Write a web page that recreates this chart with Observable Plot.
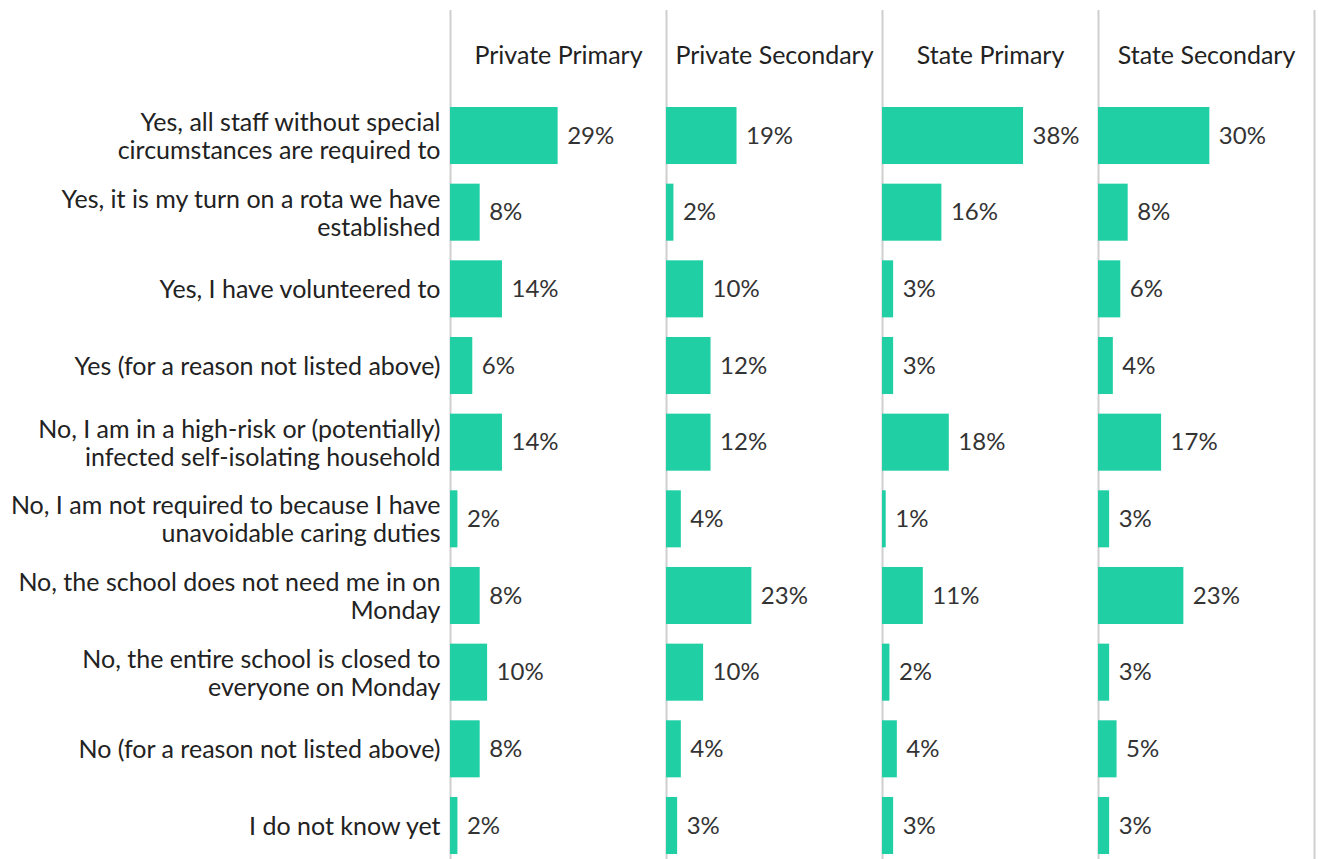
<!DOCTYPE html>
<html>
<head>
<meta charset="utf-8">
<script src="https://cdn.jsdelivr.net/npm/d3@7"></script>
<script src="https://cdn.jsdelivr.net/npm/@observablehq/plot@0.6"></script>
<style>
  html, body { margin: 0; padding: 0; background: #fff; }
  #chart { width: 1318px; height: 859px; }
</style>
</head>
<body>
<div id="chart"></div>
<script>
const columns = ["Private Primary", "Private Secondary", "State Primary", "State Secondary"];

const categories = [
  "Yes, all staff without special\ncircumstances are required to",
  "Yes, it is my turn on a rota we have\nestablished",
  "Yes, I have volunteered to",
  "Yes (for a reason not listed above)",
  "No, I am in a high-risk or (potentially)\ninfected self-isolating household",
  "No, I am not required to because I have\nunavoidable caring duties",
  "No, the school does not need me in on\nMonday",
  "No, the entire school is closed to\neveryone on Monday",
  "No (for a reason not listed above)",
  "I do not know yet"
];

const privatePrimary   = [29, 8, 14, 6, 14, 2, 8, 10, 8, 2];
const privateSecondary = [19, 2, 10, 12, 12, 4, 23, 10, 4, 3];
const statePrimary     = [38, 16, 3, 3, 18, 1, 11, 2, 4, 3];
const stateSecondary   = [30, 8, 6, 4, 17, 3, 23, 3, 5, 3];

const series = [privatePrimary, privateSecondary, statePrimary, stateSecondary];
const data = [];
columns.forEach((col, i) => {
  categories.forEach((cat, j) => {
    data.push({col, cat, value: series[i][j]});
  });
});

const xMax = 58.2;
const labelRows = categories.map(cat => ({cat, col: columns[0]}));
const edges = columns.map(col => ({col}));

const chart = Plot.plot({
  width: 1318,
  height: 859,
  marginLeft: 450,
  marginRight: 4,
  marginTop: 10,
  marginBottom: 0,
  style: {fontFamily: "Lato, 'Open Sans', sans-serif", background: "#fff", color: "#333"},
  fx: {domain: columns, padding: 0, axis: null},
  x: {domain: [0, xMax], axis: null},
  y: {domain: categories, axis: null, paddingInner: 0.256, paddingOuter: 0, round: false, insetTop: 97, insetBottom: 5},
  marks: [
    Plot.ruleX(edges, {fx: "col", x: 0, stroke: "#cfcfcf", strokeWidth: 2}),
    Plot.ruleX([{col: columns[3]}], {fx: "col", x: xMax, stroke: "#cfcfcf", strokeWidth: 2}),
    Plot.barX(data, {fx: "col", y: "cat", x: "value", fill: "#20cfa4"}),
    Plot.text(data, {fx: "col", y: "cat", x: "value", text: d => d.value + "%", textAnchor: "start", dx: 9, fontSize: 24, fill: "#333"}),
    Plot.text(edges, {fx: "col", text: "col", frameAnchor: "top", lineAnchor: "middle", dy: 45, fontSize: 25, fill: "#222"}),
    Plot.text(labelRows, {fx: "col", y: "cat", text: "cat", frameAnchor: "left", textAnchor: "end", dx: -10, fontSize: 25, lineHeight: 1.12, fill: "#222"})
  ]
});

document.getElementById("chart").appendChild(chart);
</script>
</body>
</html>
